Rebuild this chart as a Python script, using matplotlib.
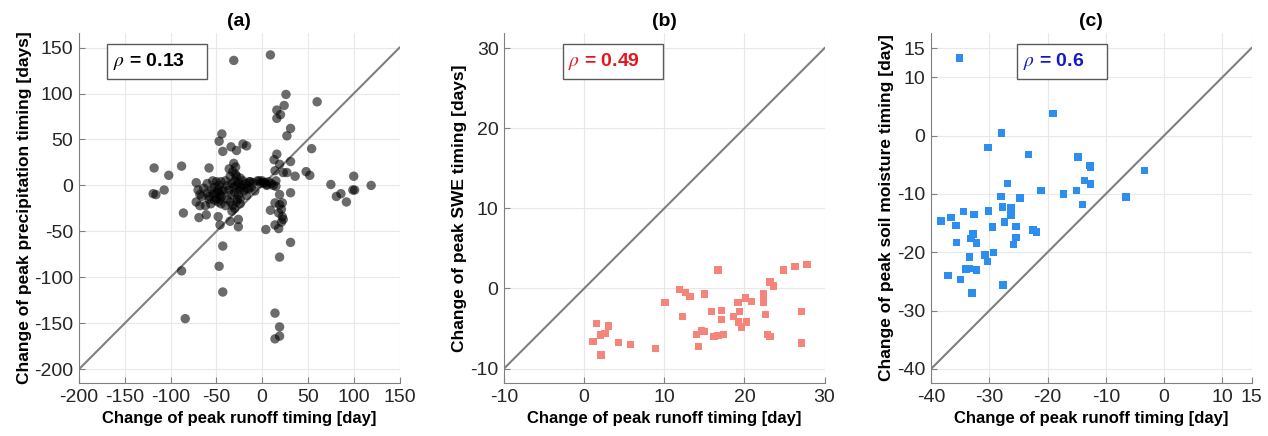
import matplotlib
matplotlib.use('Agg')
import matplotlib.pyplot as plt
from matplotlib.patches import Rectangle

plt.rcParams['font.family'] = ['Liberation Sans', 'DejaVu Sans']
plt.rcParams['mathtext.fontset'] = 'stix'
plt.rcParams['axes.unicode_minus'] = False

# (a) runoff vs precipitation timing change
precip_x = [-31, 9, 26, 24, 16, 20, 16, 60, 31, 27, 54, -44, -47, -34, -28, -43, -21, -17,
            -118, -102, -88, -58, -107, -119, -116, -86, -69, -61, -48, -46, -35, -26, -26,
            -43, -47, -43, -88, -84, 4, 9, 14, 18, 19, 31, 14, 19, 19, 14,
            75, 81, 86, 92, 100, 99, 101, 119, 48, 52, 36, 31, 27, 31, 16, 13, 19, 14, 23,
            15, 15, 19, 14, 19, 22, 21, 18, 22, 23, 21, -3, 1, 5, -13, -15, -17, -24,
            -72, -70, -68, -66, -72, -64, -60, -58, -55, -53, -52, -50, -50, -48, -48,
            -47, -46, -45, -44, -56, -62, -68, -60, -54, -50, -45, -58, -52, -46, -44,
            -40, -38, -36, -35, -34, -33, -32, -31, -30, -30, -29, -28, -28, -27, -26,
            -25, -24, -23, -22, -21, -20, -18, -17, -14, -12, -10, -8, -35, -32, -30,
            -28, -38, -40, -42, -36, -31, -26, -24, -33, -29,
            0, 3, 5, 7, -5, -2, 10, 12]
precip_y = [136, 142, 99, 87, 82, 77, 73, 91, 62, 54, 40, 56, 48, 42, 38, 37, 45, 43,
            19, 11, 21, 19, -5, -9, -10, -30, -35, -32, -34, -43, -39, -45, -37,
            -66, -88, -116, -93, -145, -48, -27, -43, -47, -78, -62, -139, -154, -164, -167,
            1, -12, -9, -18, 10, -5, -5, 0, 15, 11, 10, -8, 14, 26, 34, 28, 23, 16, 14,
            5, -1, -10, -19, -21, -19, -26, -30, -34, -37, -40, 5, 3, 1, 4, -4, -11, -15,
            3, -5, -10, -12, -18, -3, -8, -15, -5, -10, -2, -8, -14, -5, -18,
            0, -10, -20, -6, -20, -22, -22, 2, 5, 4, 4, -12, -16, -15, -12,
            5, 0, -5, 10, -10, 2, 15, -2, 5, -8, 20, 0, 10, -15, 3,
            -5, 8, -2, 0, 5, -6, 2, -3, 4, -2, 3, -6, -18, -22, -25,
            -18, -15, -22, -5, 18, 24, -10, -20, -28, 12,
            5, 3, 0, 4, 5, 2, 2, 0]

# (b) runoff vs SWE timing change
swe_x = [1.1, 1.5, 2.0, 2.1, 2.6, 3.0, 4.3, 5.8, 8.9, 10.1, 11.9, 12.3, 12.6, 13.2,
         14.0, 14.3, 14.6, 15.0, 15.0, 15.9, 16.2, 16.7, 16.7, 17.1, 17.1, 17.4, 18.6,
         19.2, 19.4, 19.3, 19.6, 20.1, 20.3, 20.9, 22.4, 22.4, 22.6, 22.9, 23.2, 23.2,
         23.6, 24.9, 26.3, 27.1, 27.1, 27.8]
swe_y = [-6.6, -4.4, -5.8, -8.3, -5.6, -4.7, -6.7, -7.0, -7.5, -1.8, -0.1, -3.5, -0.5,
         -1.0, -5.7, -7.2, -5.3, -0.7, -5.4, -2.9, -6.0, 2.3, -5.9, -2.8, -3.9, -5.7,
         -3.5, -1.8, -2.9, -4.2, -4.8, -1.2, -4.2, -1.6, -0.7, -1.7, -3.3, -5.7, -6.0,
         0.8, 0.3, 2.3, 2.7, -2.9, -6.8, 3.0]

# (c) runoff vs soil moisture timing change
sm_x = [-35.1, -38.3, -37.1, -36.6, -35.7, -35.6, -34.9, -34.4, -34.0, -33.4, -33.4,
        -33.1, -32.8, -33.0, -32.6, -32.2, -32.2, -30.2, -30.1, -30.7, -30.3, -29.4,
        -29.3, -27.9, -28.0, -27.7, -27.4, -27.6, -26.9, -26.3, -26.3, -25.8, -25.4,
        -25.4, -24.7, -23.3, -22.5, -21.9, -21.1, -19.1, -17.3, -15.0, -14.8, -14.0,
        -13.7, -12.7, -12.6, -12.6, -6.5, -3.4]
sm_y = [13.3, -14.6, -24.0, -14.0, -15.4, -18.3, -24.7, -13.0, -22.9, -22.8, -20.8,
        -17.6, -16.9, -27.0, -13.5, -18.4, -23.0, -2.0, -12.9, -20.5, -21.6, -15.7,
        -20.0, 0.4, -10.4, -12.2, -14.8, -25.6, -8.2, -12.4, -13.6, -18.7, -15.6,
        -17.5, -10.7, -3.2, -16.2, -16.5, -9.4, 3.8, -10.0, -9.4, -3.7, -11.8,
        -7.7, -5.1, -5.4, -8.3, -10.5, -6.0]

panels = [
    dict(x=precip_x, y=precip_y, title='(a)', ylabel='Change of peak precipitation timing [days]',
         xlim=(-200, 150), ylim=(-215, 166), ticks=[-200, -150, -100, -50, 0, 50, 100, 150],
         yticks=[-200, -150, -100, -50, 0, 50, 100, 150],
         rho='0.13', rho_color='black', box=(0.088, 0.40), left=0.0623,
         marker='o', color='black', alpha=0.58, size=46),
    dict(x=swe_x, y=swe_y, title='(b)', ylabel='Change of peak SWE timing [days]',
         xlim=(-10, 30), ylim=(-11.8, 31.9), ticks=[-10, 0, 10, 20, 30],
         yticks=[-10, 0, 10, 20, 30],
         rho='0.49', rho_color='#e6141e', box=(0.184, 0.495), left=0.3975,
         marker='s', color='#f5857a', alpha=1.0, size=27),
    dict(x=sm_x, y=sm_y, title='(c)', ylabel='Change of peak soil moisture timing [day]',
         xlim=(-40, 15), ylim=(-42.4, 17.6), ticks=[-40, -30, -20, -10, 0, 10, 15],
         yticks=[-40, -30, -20, -10, 0, 10, 15],
         rho='0.6', rho_color='#1418c8', box=(0.269, 0.55), left=0.7342,
         marker='s', color='#2d8ef0', alpha=1.0, size=29),
]

fig = plt.figure(figsize=(12.68, 4.36), dpi=100)

for p in panels:
    ax = fig.add_axes([p['left'], 0.1216, 0.2528, 0.803])
    ax.set_xlim(p['xlim'])
    ax.set_ylim(p['ylim'])
    ax.grid(True, color='#e8e8e8', linewidth=0.8)
    ax.set_axisbelow(True)

    lo, hi = p['xlim'][0], p['xlim'][1]
    ax.plot([lo, hi], [lo, hi], color='#7f7f7f', linewidth=1.5, zorder=2)

    ax.scatter(p['x'], p['y'], marker=p['marker'], s=p['size'], c=p['color'],
               alpha=p['alpha'], edgecolors='none', zorder=3)

    ax.set_xticks(p['ticks'])
    ax.set_yticks(p['yticks'])
    ax.tick_params(direction='in', length=4, width=0.8, color='#808080',
                   labelsize=14, labelcolor='#262626', pad=4)
    for side in ['top', 'right']:
        ax.spines[side].set_visible(False)
    for side in ['left', 'bottom']:
        ax.spines[side].set_color('#808080')
        ax.spines[side].set_linewidth(0.8)

    ax.set_title(p['title'], fontsize=14, fontweight='bold', pad=5)
    ax.set_xlabel('Change of peak runoff timing [day]', fontsize=12, fontweight='bold',
                  labelpad=4)
    ax.set_ylabel(p['ylabel'], fontsize=12.5, fontweight='bold', labelpad=2)

    # correlation box
    b0, b1 = p['box']
    ax.add_patch(Rectangle((b0, 0.868), b1 - b0, 0.10, transform=ax.transAxes,
                           facecolor='white', edgecolor='#5a5a5a', linewidth=1.0,
                           zorder=5, clip_on=False))
    ax.text(b0 + 0.017, 0.918, r'$\rho$' + ' = ' + p['rho'], transform=ax.transAxes,
            ha='left', va='center', fontsize=14, fontweight='bold',
            color=p['rho_color'], zorder=6)

fig.savefig('out.png', dpi=100)
